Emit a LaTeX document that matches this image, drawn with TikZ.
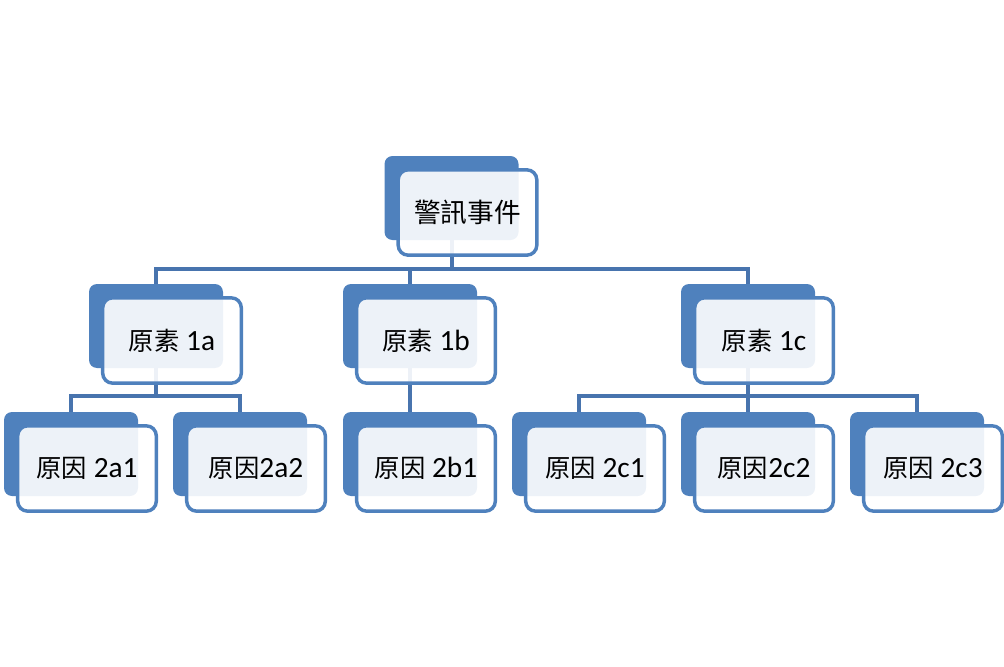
\documentclass[tikz,border=0pt]{standalone}
\usepackage{fontspec}
\setmainfont{Carlito}
\newfontfamily\cjk{Noto Sans CJK TC}
\usetikzlibrary{backgrounds}
\definecolor{accent}{HTML}{4F81BD}
\definecolor{linkblue}{HTML}{4874AE}
\newcommand{\zh}[1]{{\cjk\fontsize{19}{22}\selectfont #1}}

\begin{document}
\begin{tikzpicture}[x=0.75pt, y=-0.75pt,
  backbox/.style={fill=accent, rounded corners=6pt, minimum width=100.5pt,
    minimum height=63pt, inner sep=0pt},
  frontbox/.style={draw=accent, line width=2.6pt, fill=white, fill opacity=0.9,
    text opacity=1, rounded corners=7.5pt, minimum width=104pt,
    minimum height=64pt, inner sep=0pt, font=\fontsize{22}{26}\selectfont},
  link/.style={draw=linkblue, line width=3pt}]
  \useasboundingbox (0,0) rectangle (1004,667);

  % top event
  \node[backbox] (top-b) at (451.5,198) {};
  \node[frontbox] (top) at ([shift={(16,14.5)}]top-b.center)
    {\cjk\fontsize{20}{24}\selectfont 警訊事件};

  % first level
  \node[backbox] (a-b) at (156,326) {};
  \node[frontbox] (a) at ([shift={(16,14.5)}]a-b.center) {\zh{原素} 1a};
  \node[backbox] (b-b) at (410,326) {};
  \node[frontbox] (b) at ([shift={(16,14.5)}]b-b.center) {\zh{原素} 1b};
  \node[backbox] (c-b) at (748,326) {};
  \node[frontbox] (c) at ([shift={(16,14.5)}]c-b.center) {\zh{原素} 1c};

  % second level
  \node[backbox] (a1-b) at (71,454) {};
  \node[frontbox] (a1) at ([shift={(16,14.5)}]a1-b.center) {\zh{原因} 2a1};
  \node[backbox] (a2-b) at (240,454) {};
  \node[frontbox] (a2) at ([shift={(16,14.5)}]a2-b.center) {\zh{原因}2a2};
  \node[backbox] (b1-b) at (410,454) {};
  \node[frontbox] (b1) at ([shift={(16,14.5)}]b1-b.center) {\zh{原因} 2b1};
  \node[backbox] (c1-b) at (579,454) {};
  \node[frontbox] (c1) at ([shift={(16,14.5)}]c1-b.center) {\zh{原因} 2c1};
  \node[backbox] (c2-b) at (748,454) {};
  \node[frontbox] (c2) at ([shift={(16,14.5)}]c2-b.center) {\zh{原因}2c2};
  \node[backbox] (c3-b) at (917,454) {};
  \node[frontbox] (c3) at ([shift={(16,14.5)}]c3-b.center) {\zh{原因} 2c3};

  \begin{scope}[on background layer]
    \foreach \child in {a-b,b-b,c-b}
      \draw[link] (top-b.south) -- ++(0,29) -| (\child.north);
    \foreach \child in {a1-b,a2-b}
      \draw[link] (a-b.south) -- ++(0,28) -| (\child.north);
    \draw[link] (b-b.south) -- (b1-b.north);
    \foreach \child in {c1-b,c2-b,c3-b}
      \draw[link] (c-b.south) -- ++(0,28) -| (\child.north);
  \end{scope}
\end{tikzpicture}
\end{document}
